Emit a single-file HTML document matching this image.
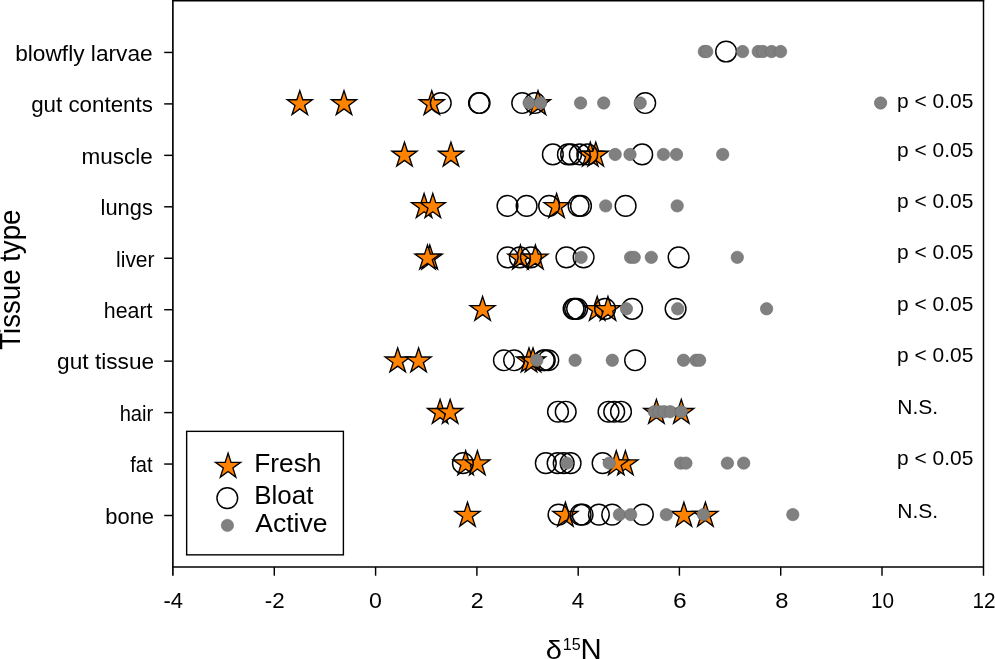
<!DOCTYPE html>
<html><head><meta charset="utf-8"><title>Tissue type vs d15N</title>
<style>
html,body{margin:0;padding:0;background:#fff;}
body{width:995px;height:659px;overflow:hidden;font-family:"Liberation Sans",sans-serif;}
svg{display:block;will-change:transform;}
</style></head><body>
<svg width="995" height="659" viewBox="0 0 995 659">
<rect x="0" y="0" width="995" height="659" fill="#ffffff"/>
<g fill="#ff8200" stroke="#000000" stroke-width="1.35" stroke-linejoin="miter">
<path d="M299.80,90.65 L302.76,99.77 L312.35,99.77 L304.60,105.41 L307.56,114.53 L299.80,108.89 L292.04,114.53 L295.00,105.41 L287.25,99.77 L296.84,99.77Z"/>
<path d="M344.00,90.65 L346.96,99.77 L356.55,99.77 L348.80,105.41 L351.76,114.53 L344.00,108.89 L336.24,114.53 L339.20,105.41 L331.45,99.77 L341.04,99.77Z"/>
<path d="M431.80,90.65 L434.76,99.77 L444.35,99.77 L436.60,105.41 L439.56,114.53 L431.80,108.89 L424.04,114.53 L427.00,105.41 L419.25,99.77 L428.84,99.77Z"/>
<path d="M538.00,90.65 L540.96,99.77 L550.55,99.77 L542.80,105.41 L545.76,114.53 L538.00,108.89 L530.24,114.53 L533.20,105.41 L525.45,99.77 L535.04,99.77Z"/>
<path d="M404.50,142.10 L407.46,151.22 L417.05,151.22 L409.30,156.86 L412.26,165.98 L404.50,160.34 L396.74,165.98 L399.70,156.86 L391.95,151.22 L401.54,151.22Z"/>
<path d="M450.95,142.10 L453.91,151.22 L463.50,151.22 L455.75,156.86 L458.71,165.98 L450.95,160.34 L443.19,165.98 L446.15,156.86 L438.40,151.22 L447.99,151.22Z"/>
<path d="M590.30,142.10 L593.26,151.22 L602.85,151.22 L595.10,156.86 L598.06,165.98 L590.30,160.34 L582.54,165.98 L585.50,156.86 L577.75,151.22 L587.34,151.22Z"/>
<path d="M595.80,142.10 L598.76,151.22 L608.35,151.22 L600.60,156.86 L603.56,165.98 L595.80,160.34 L588.04,165.98 L591.00,156.86 L583.25,151.22 L592.84,151.22Z"/>
<path d="M424.10,193.55 L427.06,202.67 L436.65,202.67 L428.90,208.31 L431.86,217.43 L424.10,211.79 L416.34,217.43 L419.30,208.31 L411.55,202.67 L421.14,202.67Z"/>
<path d="M432.80,193.55 L435.76,202.67 L445.35,202.67 L437.60,208.31 L440.56,217.43 L432.80,211.79 L425.04,217.43 L428.00,208.31 L420.25,202.67 L429.84,202.67Z"/>
<path d="M556.60,193.55 L559.56,202.67 L569.15,202.67 L561.40,208.31 L564.36,217.43 L556.60,211.79 L548.84,217.43 L551.80,208.31 L544.05,202.67 L553.64,202.67Z"/>
<path d="M429.80,245.00 L432.76,254.12 L442.35,254.12 L434.60,259.76 L437.56,268.88 L429.80,263.24 L422.04,268.88 L425.00,259.76 L417.25,254.12 L426.84,254.12Z"/>
<path d="M427.50,245.00 L430.46,254.12 L440.05,254.12 L432.30,259.76 L435.26,268.88 L427.50,263.24 L419.74,268.88 L422.70,259.76 L414.95,254.12 L424.54,254.12Z"/>
<path d="M520.40,245.00 L523.36,254.12 L532.95,254.12 L525.20,259.76 L528.16,268.88 L520.40,263.24 L512.64,268.88 L515.60,259.76 L507.85,254.12 L517.44,254.12Z"/>
<path d="M535.40,245.00 L538.36,254.12 L547.95,254.12 L540.20,259.76 L543.16,268.88 L535.40,263.24 L527.64,268.88 L530.60,259.76 L522.85,254.12 L532.44,254.12Z"/>
<path d="M482.60,296.45 L485.56,305.57 L495.15,305.57 L487.40,311.21 L490.36,320.33 L482.60,314.69 L474.84,320.33 L477.80,311.21 L470.05,305.57 L479.64,305.57Z"/>
<path d="M597.20,296.45 L600.16,305.57 L609.75,305.57 L602.00,311.21 L604.96,320.33 L597.20,314.69 L589.44,320.33 L592.40,311.21 L584.65,305.57 L594.24,305.57Z"/>
<path d="M607.96,296.45 L610.92,305.57 L620.51,305.57 L612.76,311.21 L615.72,320.33 L607.96,314.69 L600.20,320.33 L603.16,311.21 L595.41,305.57 L605.00,305.57Z"/>
<path d="M397.70,347.90 L400.66,357.02 L410.25,357.02 L402.50,362.66 L405.46,371.78 L397.70,366.14 L389.94,371.78 L392.90,362.66 L385.15,357.02 L394.74,357.02Z"/>
<path d="M418.60,347.90 L421.56,357.02 L431.15,357.02 L423.40,362.66 L426.36,371.78 L418.60,366.14 L410.84,371.78 L413.80,362.66 L406.05,357.02 L415.64,357.02Z"/>
<path d="M529.00,347.90 L531.96,357.02 L541.55,357.02 L533.80,362.66 L536.76,371.78 L529.00,366.14 L521.24,371.78 L524.20,362.66 L516.45,357.02 L526.04,357.02Z"/>
<path d="M533.00,347.90 L535.96,357.02 L545.55,357.02 L537.80,362.66 L540.76,371.78 L533.00,366.14 L525.24,371.78 L528.20,362.66 L520.45,357.02 L530.04,357.02Z"/>
<path d="M440.10,399.35 L443.06,408.47 L452.65,408.47 L444.90,414.11 L447.86,423.23 L440.10,417.59 L432.34,423.23 L435.30,414.11 L427.55,408.47 L437.14,408.47Z"/>
<path d="M450.15,399.35 L453.11,408.47 L462.70,408.47 L454.95,414.11 L457.91,423.23 L450.15,417.59 L442.39,423.23 L445.35,414.11 L437.60,408.47 L447.19,408.47Z"/>
<path d="M656.40,399.35 L659.36,408.47 L668.95,408.47 L661.20,414.11 L664.16,423.23 L656.40,417.59 L648.64,423.23 L651.60,414.11 L643.85,408.47 L653.44,408.47Z"/>
<path d="M681.30,399.35 L684.26,408.47 L693.85,408.47 L686.10,414.11 L689.06,423.23 L681.30,417.59 L673.54,423.23 L676.50,414.11 L668.75,408.47 L678.34,408.47Z"/>
<path d="M465.65,450.80 L468.61,459.92 L478.20,459.92 L470.45,465.56 L473.41,474.68 L465.65,469.04 L457.89,474.68 L460.85,465.56 L453.10,459.92 L462.69,459.92Z"/>
<path d="M477.40,450.80 L480.36,459.92 L489.95,459.92 L482.20,465.56 L485.16,474.68 L477.40,469.04 L469.64,474.68 L472.60,465.56 L464.85,459.92 L474.44,459.92Z"/>
<path d="M625.40,450.80 L628.36,459.92 L637.95,459.92 L630.20,465.56 L633.16,474.68 L625.40,469.04 L617.64,474.68 L620.60,465.56 L612.85,459.92 L622.44,459.92Z"/>
<path d="M616.30,450.80 L619.26,459.92 L628.85,459.92 L621.10,465.56 L624.06,474.68 L616.30,469.04 L608.54,474.68 L611.50,465.56 L603.75,459.92 L613.34,459.92Z"/>
<path d="M467.50,502.25 L470.46,511.37 L480.05,511.37 L472.30,517.01 L475.26,526.13 L467.50,520.49 L459.74,526.13 L462.70,517.01 L454.95,511.37 L464.54,511.37Z"/>
<path d="M565.40,502.25 L568.36,511.37 L577.95,511.37 L570.20,517.01 L573.16,526.13 L565.40,520.49 L557.64,526.13 L560.60,517.01 L552.85,511.37 L562.44,511.37Z"/>
<path d="M705.40,502.25 L708.36,511.37 L717.95,511.37 L710.20,517.01 L713.16,526.13 L705.40,520.49 L697.64,526.13 L700.60,517.01 L692.85,511.37 L702.44,511.37Z"/>
<path d="M683.90,502.25 L686.86,511.37 L696.45,511.37 L688.70,517.01 L691.66,526.13 L683.90,520.49 L676.14,526.13 L679.10,517.01 L671.35,511.37 L680.94,511.37Z"/>
</g>
<g fill="none" stroke="#000000" stroke-width="1.45">
<circle cx="726.10" cy="51.55" r="10.35"/>
<circle cx="440.75" cy="103.00" r="10.35"/>
<circle cx="479.00" cy="103.00" r="10.35"/>
<circle cx="479.60" cy="103.00" r="10.35"/>
<circle cx="522.20" cy="103.00" r="10.35"/>
<circle cx="534.80" cy="103.00" r="10.35"/>
<circle cx="645.20" cy="103.00" r="10.35"/>
<circle cx="552.85" cy="154.45" r="10.35"/>
<circle cx="567.90" cy="154.45" r="10.35"/>
<circle cx="571.10" cy="154.45" r="10.35"/>
<circle cx="579.80" cy="154.45" r="10.35"/>
<circle cx="587.30" cy="154.45" r="10.35"/>
<circle cx="642.20" cy="154.45" r="10.35"/>
<circle cx="507.50" cy="205.90" r="10.35"/>
<circle cx="526.60" cy="205.90" r="10.35"/>
<circle cx="549.10" cy="205.90" r="10.35"/>
<circle cx="578.60" cy="205.90" r="10.35"/>
<circle cx="581.00" cy="205.90" r="10.35"/>
<circle cx="625.60" cy="205.90" r="10.35"/>
<circle cx="507.70" cy="257.35" r="10.35"/>
<circle cx="519.85" cy="257.35" r="10.35"/>
<circle cx="530.90" cy="257.35" r="10.35"/>
<circle cx="566.45" cy="257.35" r="10.35"/>
<circle cx="583.60" cy="257.35" r="10.35"/>
<circle cx="678.60" cy="257.35" r="10.35"/>
<circle cx="573.60" cy="308.80" r="10.35"/>
<circle cx="575.10" cy="308.80" r="10.35"/>
<circle cx="577.10" cy="308.80" r="10.35"/>
<circle cx="605.05" cy="308.80" r="10.35"/>
<circle cx="632.10" cy="308.80" r="10.35"/>
<circle cx="675.60" cy="308.80" r="10.35"/>
<circle cx="503.90" cy="360.25" r="10.35"/>
<circle cx="514.10" cy="360.25" r="10.35"/>
<circle cx="543.80" cy="360.25" r="10.35"/>
<circle cx="544.80" cy="360.25" r="10.35"/>
<circle cx="548.30" cy="360.25" r="10.35"/>
<circle cx="635.10" cy="360.25" r="10.35"/>
<circle cx="558.00" cy="411.70" r="10.35"/>
<circle cx="565.70" cy="411.70" r="10.35"/>
<circle cx="608.50" cy="411.70" r="10.35"/>
<circle cx="614.20" cy="411.70" r="10.35"/>
<circle cx="621.00" cy="411.70" r="10.35"/>
<circle cx="462.90" cy="463.15" r="10.35"/>
<circle cx="545.80" cy="463.15" r="10.35"/>
<circle cx="557.60" cy="463.15" r="10.35"/>
<circle cx="563.70" cy="463.15" r="10.35"/>
<circle cx="570.60" cy="463.15" r="10.35"/>
<circle cx="602.60" cy="463.15" r="10.35"/>
<circle cx="558.50" cy="514.60" r="10.35"/>
<circle cx="580.60" cy="514.60" r="10.35"/>
<circle cx="582.60" cy="514.60" r="10.35"/>
<circle cx="598.90" cy="514.60" r="10.35"/>
<circle cx="612.20" cy="514.60" r="10.35"/>
<circle cx="642.90" cy="514.60" r="10.35"/>
</g>
<g fill="#808080" stroke="#6c6c6c" stroke-width="0.6">
<circle cx="704.30" cy="51.55" r="6.2"/>
<circle cx="706.70" cy="51.55" r="6.2"/>
<circle cx="742.60" cy="51.55" r="6.2"/>
<circle cx="758.20" cy="51.55" r="6.2"/>
<circle cx="762.90" cy="51.55" r="6.2"/>
<circle cx="771.60" cy="51.55" r="6.2"/>
<circle cx="780.60" cy="51.55" r="6.2"/>
<circle cx="529.10" cy="103.00" r="6.2"/>
<circle cx="540.60" cy="103.00" r="6.2"/>
<circle cx="580.60" cy="103.00" r="6.2"/>
<circle cx="603.70" cy="103.00" r="6.2"/>
<circle cx="640.20" cy="103.00" r="6.2"/>
<circle cx="880.60" cy="103.00" r="6.2"/>
<circle cx="615.20" cy="154.45" r="6.2"/>
<circle cx="630.00" cy="154.45" r="6.2"/>
<circle cx="663.40" cy="154.45" r="6.2"/>
<circle cx="676.50" cy="154.45" r="6.2"/>
<circle cx="722.70" cy="154.45" r="6.2"/>
<circle cx="605.70" cy="205.90" r="6.2"/>
<circle cx="677.20" cy="205.90" r="6.2"/>
<circle cx="581.10" cy="257.35" r="6.2"/>
<circle cx="630.60" cy="257.35" r="6.2"/>
<circle cx="634.20" cy="257.35" r="6.2"/>
<circle cx="651.30" cy="257.35" r="6.2"/>
<circle cx="737.30" cy="257.35" r="6.2"/>
<circle cx="626.40" cy="308.80" r="6.2"/>
<circle cx="677.70" cy="308.80" r="6.2"/>
<circle cx="766.60" cy="308.80" r="6.2"/>
<circle cx="536.80" cy="360.25" r="6.2"/>
<circle cx="575.10" cy="360.25" r="6.2"/>
<circle cx="612.30" cy="360.25" r="6.2"/>
<circle cx="683.50" cy="360.25" r="6.2"/>
<circle cx="696.00" cy="360.25" r="6.2"/>
<circle cx="699.60" cy="360.25" r="6.2"/>
<circle cx="654.30" cy="411.70" r="6.2"/>
<circle cx="658.80" cy="411.70" r="6.2"/>
<circle cx="664.00" cy="411.70" r="6.2"/>
<circle cx="670.20" cy="411.70" r="6.2"/>
<circle cx="681.20" cy="411.70" r="6.2"/>
<circle cx="566.90" cy="463.15" r="6.2"/>
<circle cx="609.20" cy="463.15" r="6.2"/>
<circle cx="680.65" cy="463.15" r="6.2"/>
<circle cx="685.90" cy="463.15" r="6.2"/>
<circle cx="727.40" cy="463.15" r="6.2"/>
<circle cx="743.70" cy="463.15" r="6.2"/>
<circle cx="619.40" cy="514.60" r="6.2"/>
<circle cx="630.70" cy="514.60" r="6.2"/>
<circle cx="666.30" cy="514.60" r="6.2"/>
<circle cx="703.40" cy="514.60" r="6.2"/>
<circle cx="792.80" cy="514.60" r="6.2"/>
</g>
<g stroke="#000000" fill="none">
<path d="M172.88,0 V575.7" stroke-width="1.65"/>
<path d="M172.05,0.7 H984.2" stroke-width="1.45"/>
<path d="M983.5,0 V575.7" stroke-width="1.45"/>
<path d="M172.05,567 H984.0" stroke-width="1.6"/>
</g>
<g stroke="#000000" stroke-width="1.45" fill="none">
<path d="M274.3,567 V575.7"/>
<path d="M375.6,567 V575.7"/>
<path d="M476.9,567 V575.7"/>
<path d="M578.2,567 V575.7"/>
<path d="M679.4,567 V575.7"/>
<path d="M780.7,567 V575.7"/>
<path d="M882.0,567 V575.7"/>
<path d="M164.2,52.45 H172.9"/>
<path d="M164.2,103.90 H172.9"/>
<path d="M164.2,155.35 H172.9"/>
<path d="M164.2,206.80 H172.9"/>
<path d="M164.2,258.25 H172.9"/>
<path d="M164.2,309.70 H172.9"/>
<path d="M164.2,361.15 H172.9"/>
<path d="M164.2,412.60 H172.9"/>
<path d="M164.2,464.05 H172.9"/>
<path d="M164.2,515.50 H172.9"/>
</g>
<rect x="186.65" y="431.35" width="156.75" height="123.5" fill="#ffffff" stroke="#000000" stroke-width="1.4"/>
<path d="M228.10,453.25 L231.06,462.37 L240.65,462.37 L232.90,468.01 L235.86,477.13 L228.10,471.49 L220.34,477.13 L223.30,468.01 L215.55,462.37 L225.14,462.37Z" fill="#ff8200" stroke="#000" stroke-width="1.35"/>
<circle cx="227.3" cy="498.1" r="10.35" fill="#fff" stroke="#000" stroke-width="1.45"/>
<circle cx="227.4" cy="525.4" r="6.2" fill="#808080" stroke="#6e6e6e" stroke-width="0.5"/>
<g font-family="Liberation Sans, sans-serif" fill="#000000">
<text font-size="22.0px" transform="translate(15.18,60.75) scale(1.0320,1)">blowfly larvae</text>
<text font-size="22.0px" transform="translate(31.20,112.20) scale(1.0162,1)">gut contents</text>
<text font-size="22.0px" transform="translate(81.59,163.65) scale(1.0235,1)">muscle</text>
<text font-size="22.0px" transform="translate(100.53,215.10) scale(0.9954,1)">lungs</text>
<text font-size="22.0px" transform="translate(116.09,266.55) scale(0.9523,1)">liver</text>
<text font-size="22.0px" transform="translate(103.87,318.00) scale(0.9704,1)">heart</text>
<text font-size="22.0px" transform="translate(57.09,369.45) scale(1.0304,1)">gut tissue</text>
<text font-size="22.0px" transform="translate(119.64,420.90) scale(0.9176,1)">hair</text>
<text font-size="22.0px" transform="translate(130.20,472.35) scale(0.9130,1)">fat</text>
<text font-size="22.0px" transform="translate(105.23,523.80) scale(0.9984,1)">bone</text>
<text font-size="22.0px" transform="translate(163.41,608.10) scale(0.9986,1)">-4</text>
<text font-size="22.0px" transform="translate(264.70,608.10) scale(1.0177,1)">-2</text>
<text font-size="22.0px" transform="translate(369.07,608.10) scale(1.0545,1)">0</text>
<text font-size="22.0px" transform="translate(470.71,608.10) scale(1.0570,1)">2</text>
<text font-size="22.0px" transform="translate(571.75,608.10) scale(1.0138,1)">4</text>
<text font-size="22.0px" transform="translate(672.95,608.10) scale(1.1152,1)">6</text>
<text font-size="22.0px" transform="translate(775.36,608.10) scale(1.0792,1)">8</text>
<text font-size="22.0px" transform="translate(870.90,608.10) scale(0.9447,1)">10</text>
<text font-size="22.0px" transform="translate(972.41,608.10) scale(0.9413,1)">12</text>
<text font-size="20.6px" transform="translate(897.09,107.90) scale(1.0164,1)">p &lt; 0.05</text>
<text font-size="20.6px" transform="translate(897.09,156.60) scale(1.0164,1)">p &lt; 0.05</text>
<text font-size="20.6px" transform="translate(897.09,208.10) scale(1.0164,1)">p &lt; 0.05</text>
<text font-size="20.6px" transform="translate(897.09,259.40) scale(1.0164,1)">p &lt; 0.05</text>
<text font-size="20.6px" transform="translate(897.09,311.40) scale(1.0164,1)">p &lt; 0.05</text>
<text font-size="20.6px" transform="translate(897.09,362.30) scale(1.0164,1)">p &lt; 0.05</text>
<text font-size="20.6px" transform="translate(897.15,413.90) scale(1.0248,1)">N.S.</text>
<text font-size="20.6px" transform="translate(897.09,464.60) scale(1.0164,1)">p &lt; 0.05</text>
<text font-size="20.6px" transform="translate(897.15,518.00) scale(1.0248,1)">N.S.</text>
<text font-size="25.0px" transform="translate(254.25,471.90) scale(1.0521,1)">Fresh</text>
<text font-size="25.0px" transform="translate(254.27,504.00) scale(1.0396,1)">Bloat</text>
<text font-size="25.0px" transform="translate(255.20,532.00) scale(1.0616,1)">Active</text>
<text font-size="29px" transform="translate(20.4,349.73) rotate(-90) scale(0.9521,1)">Tissue type</text>
<text font-size="29.0px" transform="translate(545.69,658.80) scale(1.0038,0.91)">δ</text>
<text font-size="17.2px" transform="translate(562.69,649.80) scale(0.9390,1)">15</text>
<text font-size="29.0px" transform="translate(580.51,658.80) scale(1.0115,1)">N</text>
</g>
</svg>
</body></html>
